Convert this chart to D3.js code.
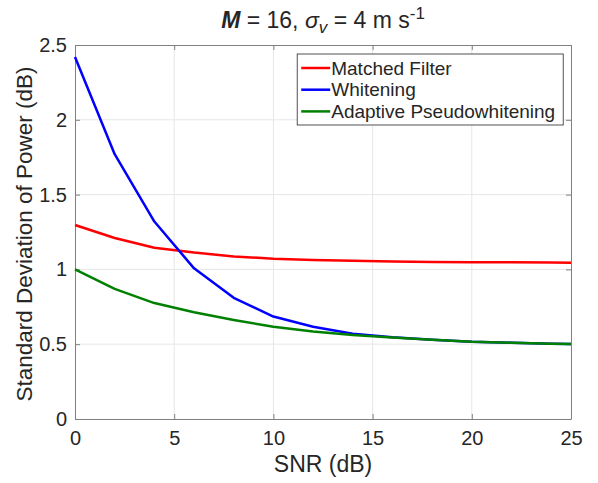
<!DOCTYPE html>
<html>
<head>
<meta charset="utf-8">
<script src="https://cdn.jsdelivr.net/npm/d3@7"></script>
<style>
  body { margin: 0; background: #fff; }
  text { font-family: "Liberation Sans", Arial, sans-serif; fill: #262626; }
</style>
</head>
<body>
<div id="chart"></div>
<script>
// SNR sample points (dB)
const snr = [0, 2, 4, 6, 8, 10, 12, 14, 16, 18, 20, 22, 24, 25];

// Standard deviation of power (dB) per method
const matchedFilter = [1.297, 1.21, 1.145, 1.113, 1.087, 1.072, 1.063, 1.057, 1.053, 1.05, 1.048, 1.047, 1.046, 1.045];
const whitening = [2.42, 1.77, 1.32, 1.007, 0.81, 0.685, 0.617, 0.57, 0.547, 0.53, 0.517, 0.51, 0.503, 0.501];
const pseudoWhitening = [1.0, 0.87, 0.775, 0.713, 0.662, 0.617, 0.585, 0.561, 0.545, 0.53, 0.517, 0.51, 0.503, 0.501];

const seriesNames = ["Matched Filter", "Whitening", "Adaptive Pseudowhitening"];
const seriesColors = ["#ff0000", "#0000ff", "#008000"];

const xTicks = [0, 5, 10, 15, 20, 25];
const yTicks = [0, 0.5, 1, 1.5, 2, 2.5];

const W = 598, H = 483;
const margin = {top: 45, right: 27, bottom: 64, left: 75};
const width = W - margin.left - margin.right;
const height = H - margin.top - margin.bottom;

const svg = d3.select("#chart").append("svg")
  .attr("width", W)
  .attr("height", H);

const g = svg.append("g")
  .attr("transform", `translate(${margin.left},${margin.top})`);

const x = d3.scaleLinear().domain([0, 25]).range([0, width]);
const y = d3.scaleLinear().domain([0, 2.5]).range([height, 0]);

// grid
g.append("g")
  .selectAll("line")
  .data(xTicks.slice(1, -1))
  .join("line")
    .attr("x1", d => x(d)).attr("x2", d => x(d))
    .attr("y1", 0).attr("y2", height)
    .attr("stroke", "#e6e6e6");
g.append("g")
  .selectAll("line")
  .data(yTicks.slice(1, -1))
  .join("line")
    .attr("x1", 0).attr("x2", width)
    .attr("y1", d => y(d)).attr("y2", d => y(d))
    .attr("stroke", "#e6e6e6");

// axes (ticks inward like MATLAB)
const axisColor = "#808080";
g.append("g")
  .attr("transform", `translate(0,${height})`)
  .call(d3.axisBottom(x).tickValues(xTicks).tickSizeInner(-5).tickSizeOuter(0).tickPadding(12));
g.append("g")
  .call(d3.axisLeft(y).tickValues(yTicks).tickFormat(d3.format("")).tickSizeInner(-5).tickSizeOuter(0).tickPadding(8));

// top and right ticks
g.append("g")
  .call(d3.axisTop(x).tickValues(xTicks).tickSizeInner(-5).tickSizeOuter(0).tickFormat(""));
g.append("g")
  .attr("transform", `translate(${width},0)`)
  .call(d3.axisRight(y).tickValues(yTicks).tickSizeInner(-5).tickSizeOuter(0).tickFormat(""));

g.selectAll(".domain").attr("stroke", axisColor);
g.selectAll(".tick line").attr("stroke", axisColor);
g.selectAll(".tick text")
  .style("font-size", "20px")
  .style("font-family", "Liberation Sans, Arial, sans-serif")
  .attr("fill", "#262626");

// lines
const allSeries = [matchedFilter, whitening, pseudoWhitening];
const line = d3.line()
  .x((d, i) => x(snr[i]))
  .y(d => y(d));

g.selectAll(".series")
  .data(allSeries)
  .join("path")
    .attr("class", "series")
    .attr("fill", "none")
    .attr("stroke", (d, i) => seriesColors[i])
    .attr("stroke-width", 2.5)
    .attr("stroke-linejoin", "round")
    .attr("d", line);

// axis labels
g.append("text")
  .attr("x", width / 2)
  .attr("y", height + 53)
  .attr("text-anchor", "middle")
  .style("font-size", "23px")
  .text("SNR (dB)");

svg.append("text")
  .attr("transform", `translate(32,${margin.top + height / 2 + 2}) rotate(-90)`)
  .attr("text-anchor", "middle")
  .style("font-size", "22.5px")
  .text("Standard Deviation of Power (dB)");

// title
const title = svg.append("text")
  .attr("x", margin.left + width / 2)
  .attr("y", 28)
  .attr("text-anchor", "middle")
  .style("font-size", "23px");
title.append("tspan").style("font-weight", "bold").style("font-style", "italic").text("M");
title.append("tspan").text(" = 16, ");
title.append("tspan").style("font-style", "italic").text("σ");
title.append("tspan").style("font-style", "italic").style("font-size", "17px").attr("dy", 5).text("v");
title.append("tspan").attr("dy", -5).text(" = 4 m s");
title.append("tspan").style("font-size", "17px").attr("dy", -9).text("-1");

// legend
const legend = g.append("g")
  .attr("transform", `translate(${x(11.2)},9)`);
legend.append("rect")
  .attr("width", 266)
  .attr("height", 71)
  .attr("fill", "#fff")
  .attr("stroke", "#262626")
  .attr("stroke-width", 0.8);
const items = legend.selectAll(".legend-item")
  .data(seriesNames)
  .join("g")
    .attr("class", "legend-item")
    .attr("transform", (d, i) => `translate(0,${14 + i * 21.7})`);
items.append("line")
  .attr("x1", 4).attr("x2", 33)
  .attr("stroke", (d, i) => seriesColors[i])
  .attr("stroke-width", 2.5);
items.append("text")
  .attr("x", 34)
  .attr("dy", "0.35em")
  .style("font-size", "19px")
  .text(d => d);
</script>
</body>
</html>
